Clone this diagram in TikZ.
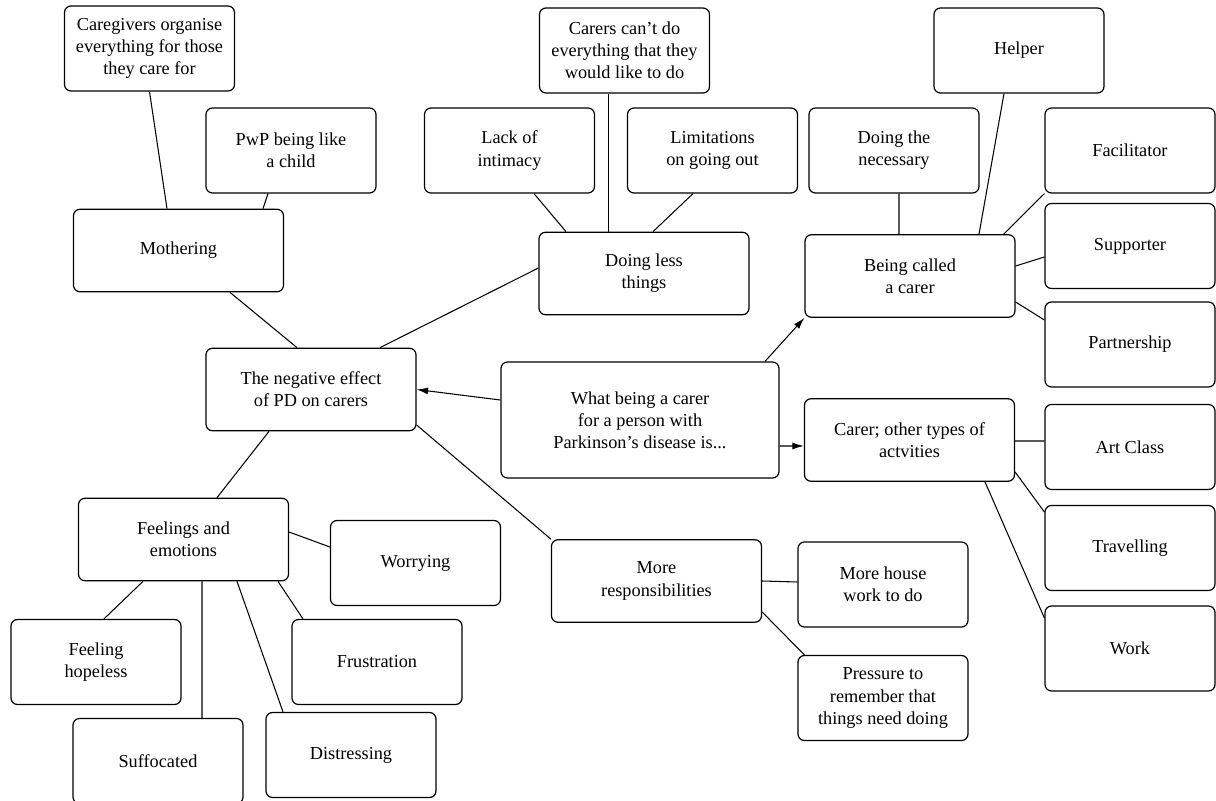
\documentclass[tikz,border=0pt]{standalone}
\usepackage{fontspec}
\setmainfont{Liberation Serif}
\usetikzlibrary{arrows.meta}
\tikzset{
	box/.style={draw, line width=0.7pt, rounded corners=1.3mm, align=center, inner sep=2pt,
		minimum width=3.4cm, minimum height=1.7cm, font=\fontsize{10.4}{12.6}\selectfont},
	midbox/.style={box, minimum width=4.2cm, minimum height=1.65cm},
	link/.style={line width=0.6pt},
	pointer/.style={link, -{Latex[length=2.3mm,width=1.4mm]}}
}
\begin{document}
\begin{tikzpicture}
	\useasboundingbox (0,0) rectangle (24.32,-16.02);
	% Define the central question
	\node[box, minimum width=5.56cm, minimum height=2.32cm] (what) at (12.80,-8.40) {What being a carer\\for a person with\\Parkinson's disease is...};
	% Define the negative effect branch
	\node[midbox] (neg) at (6.22,-7.79) {The negative effect\\of PD on carers};
	\node[midbox] (mother) at (3.57,-5.01) {Mothering};
	\node[box] (care) at (2.99,-0.97) {Caregivers organise\\everything for those\\they care for};
	\node[box] (pwp) at (5.82,-3.01) {PwP being like\\a child};
	\node[midbox] (less) at (12.88,-5.47) {Doing less\\things};
	\node[box] (cant) at (12.49,-1.01) {Carers can't do\\everything that they\\would like to do};
	\node[box] (intim) at (10.19,-3.01) {Lack of\\intimacy};
	\node[box] (limit) at (14.25,-3.01) {Limitations\\on going out};
	\node[midbox] (feel) at (3.67,-10.79) {Feelings and\\emotions};
	\node[box] (worry) at (8.31,-11.26) {Worrying};
	\node[box] (hopeless) at (1.92,-13.24) {Feeling\\hopeless};
	\node[box] (frust) at (7.54,-13.24) {Frustration};
	\node[box] (suffoc) at (3.16,-15.22) {Suffocated};
	\node[box] (distress) at (7.02,-15.10) {Distressing};
	\node[midbox] (resp) at (13.13,-11.62) {More\\responsibilities};
	\node[box] (house) at (17.66,-11.69) {More house\\work to do};
	\node[box] (press) at (17.66,-13.96) {Pressure to\\remember that\\things need doing};
	% Define the carer branch
	\node[midbox] (called) at (18.20,-5.52) {Being called\\a carer};
	\node[box] (helper) at (20.38,-1.01) {Helper};
	\node[box] (needed) at (17.88,-3.01) {Doing the\\necessary};
	\node[box] (facil) at (22.60,-3.01) {Facilitator};
	\node[box] (support) at (22.60,-4.92) {Supporter};
	\node[box] (partner) at (22.60,-6.89) {Partnership};
	\node[midbox] (other) at (18.19,-8.80) {Carer; other types of\\actvities};
	\node[box] (art) at (22.60,-8.94) {Art Class};
	\node[box] (travel) at (22.60,-10.96) {Travelling};
	\node[box] (work) at (22.60,-12.97) {Work};
	% Draw the arrows
	\draw[pointer] ([yshift=0.40cm]what.west) -- (neg.east);
	\draw[pointer] ([xshift=2.50cm]what.north) -- (called.south west);
	\draw[pointer] ([yshift=-0.52cm]what.east) -- ([yshift=-0.12cm]other.west);
	% Draw the links
	\draw[link] (care.south) -- ([xshift=-0.23cm]mother.north);
	\draw[link] ([xshift=-0.46cm]pwp.south) -- ([xshift=1.69cm]mother.north);
	\draw[link] ([xshift=1.03cm]mother.south) -- ([xshift=-0.28cm]neg.north);
	\draw[link] ([yshift=0.11cm]less.west) -- ([xshift=1.38cm]neg.north);
	\draw[link] ([xshift=0.49cm]intim.south) -- ([xshift=-1.56cm]less.north);
	\draw[link] ([xshift=-0.32cm]cant.south) -- ([xshift=-0.71cm]less.north);
	\draw[link] ([xshift=-0.39cm]limit.south) -- ([xshift=0.18cm]less.north);
	\draw[link] ([xshift=-0.84cm]neg.south) -- ([xshift=0.67cm]feel.north);
	\draw[link] ([yshift=-0.71cm]neg.east) -- (resp.north west);
	\draw[link] ([yshift=0.15cm]feel.east) -- ([yshift=0.32cm]worry.west);
	\draw[link] ([xshift=-0.81cm]feel.south) -- ([xshift=0.16cm]hopeless.north);
	\draw[link] ([xshift=0.37cm]feel.south) -- ([xshift=0.88cm]suffoc.north);
	\draw[link] ([xshift=1.07cm]feel.south) -- ([xshift=-1.36cm]distress.north);
	\draw[link] ([xshift=1.89cm]feel.south) -- ([xshift=-1.48cm]frust.north);
	\draw[link] (resp.east) -- ([yshift=0.05cm]house.west);
	\draw[link] ([yshift=-0.62cm]resp.east) -- ([xshift=0.14cm]press.north west);
	\draw[link] ([xshift=0.10cm]needed.south) -- ([xshift=-0.22cm]called.north);
	\draw[link] ([xshift=-0.30cm]helper.south) -- ([xshift=1.38cm]called.north);
	\draw[link] (facil.south west) -- ([xshift=-0.24cm]called.north east);
	\draw[link] ([yshift=-0.22cm]support.west) -- ([yshift=0.20cm]called.east);
	\draw[link] ([yshift=0.49cm]partner.west) -- ([yshift=-0.52cm]called.east);
	\draw[link] ([yshift=-0.02cm]other.east) -- ([yshift=0.12cm]art.west);
	\draw[link] ([yshift=-0.64cm]other.east) -- ([yshift=0.72cm]travel.west);
	\draw[link] ([xshift=1.51cm]other.south) -- ([yshift=0.61cm]work.west);
\end{tikzpicture}
\end{document}
